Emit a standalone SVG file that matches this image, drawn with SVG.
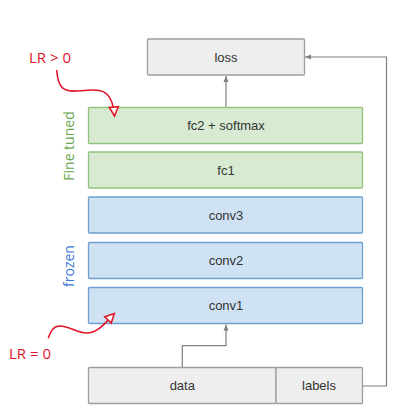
<svg xmlns="http://www.w3.org/2000/svg" width="402" height="415" viewBox="0 0 402 415">
<style>
.box rect{stroke-width:1.3}
.gray rect{fill:#eeeeee;stroke:#9e9e9e}
.green rect{fill:#d9ead3;stroke:#93c47d}
.blue rect{fill:#cfe2f3;stroke:#6f9fcf}
.lbl{font-family:"Liberation Sans",Arial,sans-serif;font-size:13px;fill:#333333;text-anchor:middle}
.conn{fill:none;stroke:#808080;stroke-width:1.2}
.red{fill:none;stroke:#e0162b;stroke-width:1.6}
.ann{font-family:"Open Sans","Noto Sans",sans-serif;font-size:15px;fill:#e0162b}
.side{font-family:"Open Sans","Noto Sans",sans-serif;font-size:14px;text-anchor:middle}
</style>
<defs>
<marker id="garr" markerUnits="userSpaceOnUse" markerWidth="8" markerHeight="8" refX="7" refY="4" orient="auto">
<path d="M1,1.5 L7,4 L1,6.5 z" fill="#808080"/>
</marker>
<marker id="rarr" markerUnits="userSpaceOnUse" markerWidth="14" markerHeight="14" refX="11" refY="7" orient="auto">
<path d="M2,2.5 L11,7 L2,11.5 z" fill="#ffffff" stroke="#e0162b" stroke-width="1.6"/>
</marker>
</defs>
<rect width="402" height="415" fill="#ffffff"/>
<g id="connectors">
<path class="conn" d="M226,107.5 V76" marker-end="url(#garr)"/>
<path class="conn" d="M182.3,367.5 V345.7 H226 V324.5" marker-end="url(#garr)"/>
<path class="conn" d="M362.5,386 H386.5 V57 H305" marker-end="url(#garr)"/>
</g>
<g id="loss" class="box gray"><rect x="147.5" y="39" width="157" height="36" rx="1"/><text class="lbl" x="226" y="61.5">loss</text></g>
<g id="fc2" class="box green"><rect x="88.5" y="107.5" width="274" height="36" rx="1"/><text class="lbl" x="226" y="130">fc2 + softmax</text></g>
<g id="fc1" class="box green"><rect x="88.5" y="152" width="274" height="36" rx="1"/><text class="lbl" x="226" y="174.5">fc1</text></g>
<g id="conv3" class="box blue"><rect x="88.5" y="197" width="274" height="36" rx="1"/><text class="lbl" x="226" y="219.5">conv3</text></g>
<g id="conv2" class="box blue"><rect x="88.5" y="242.5" width="274" height="36" rx="1"/><text class="lbl" x="226" y="265">conv2</text></g>
<g id="conv1" class="box blue"><rect x="88.5" y="287.5" width="274" height="36" rx="1"/><text class="lbl" x="226" y="310">conv1</text></g>
<g id="data" class="box gray"><rect x="88.5" y="367.5" width="187.5" height="36" rx="1"/><text class="lbl" x="182.3" y="390">data</text></g>
<g id="labels" class="box gray"><rect x="276" y="367.5" width="86.5" height="36" rx="1"/><text class="lbl" x="319" y="390">labels</text></g>
<g id="annotations">
<text class="side" fill="#6aa84f" transform="translate(74,146) rotate(-90)">Fine tuned</text>
<text class="side" fill="#3c78d8" transform="translate(74,266) rotate(-90)">frozen</text>
<text class="ann" x="29" y="63">LR &gt; 0</text>
<text class="ann" x="9" y="359">LR = 0</text>
<path class="red" d="M56.7,70 C58,88 63,92 78,91 C95,90 112,84 114.5,116" marker-end="url(#rarr)"/>
<path class="red" d="M48.3,338.3 C51,330 54,326 60,326 C70,326 78,334 88,333 C99,332 106,322 114.3,313.5" marker-end="url(#rarr)"/>
</g>
</svg>
